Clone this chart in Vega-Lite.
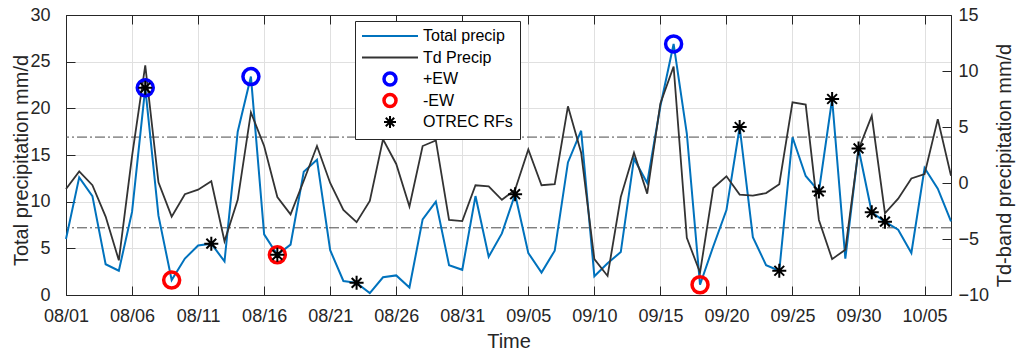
{
  "$schema": "https://vega.github.io/schema/vega-lite/v6.json",
  "width": 885,
  "height": 280,
  "autosize": {"type": "none"},
  "padding": {"left": 66, "top": 15, "right": 66, "bottom": 57},
  "background": "white",
  "config": {
    "view": {"stroke": "#262626", "strokeWidth": 1},
    "font": "Liberation Sans",
    "axis": {
      "labelFont": "Liberation Sans", "titleFont": "Liberation Sans",
      "labelFontSize": 18, "titleFontSize": 20, "titleFontWeight": "normal",
      "labelColor": "#262626", "titleColor": "#262626",
      "domainColor": "#262626", "tickColor": "#262626", "gridColor": "#e0e0e0",
      "tickSize": -9, "labelFlush": false, "labelOverlap": false
    },
    "legend": {
      "orient": "none", "legendX": 289, "legendY": 6, "padding": 7,
      "fillColor": "white", "strokeColor": "#262626",
      "labelFont": "Liberation Sans", "labelFontSize": 16, "labelColor": "#000000",
      "labelOffset": 25, "symbolOffset": 20, "symbolSize": 144, "symbolStrokeWidth": 2,
      "symbolOpacity": 1, "rowPadding": -4.5, "labelLimit": 300, "gridAlign": "all"
    }
  },
  "datasets": {
    "bands": [{"level": 4.1}, {"level": -4.0}],
    "precip": [
      {"date": "2019/08/01", "total": 6.0, "td": -0.54},
      {"date": "2019/08/02", "total": 12.6, "td": 1.04},
      {"date": "2019/08/03", "total": 10.6, "td": -0.2},
      {"date": "2019/08/04", "total": 3.3, "td": -3.0},
      {"date": "2019/08/05", "total": 2.6, "td": -6.9},
      {"date": "2019/08/06", "total": 8.9, "td": 2.4},
      {"date": "2019/08/07", "total": 22.2, "td": 10.5},
      {"date": "2019/08/08", "total": 8.5, "td": 0.06},
      {"date": "2019/08/09", "total": 1.6, "td": -3.0},
      {"date": "2019/08/10", "total": 3.9, "td": -1.0},
      {"date": "2019/08/11", "total": 5.3, "td": -0.6},
      {"date": "2019/08/12", "total": 5.5, "td": 0.15},
      {"date": "2019/08/13", "total": 3.6, "td": -5.2},
      {"date": "2019/08/14", "total": 17.5, "td": -1.5},
      {"date": "2019/08/15", "total": 23.4, "td": 6.3},
      {"date": "2019/08/16", "total": 6.5, "td": 3.3},
      {"date": "2019/08/17", "total": 4.3, "td": -1.25},
      {"date": "2019/08/18", "total": 5.4, "td": -2.8},
      {"date": "2019/08/19", "total": 13.2, "td": 0.2},
      {"date": "2019/08/20", "total": 14.5, "td": 3.3},
      {"date": "2019/08/21", "total": 4.8, "td": 0.0},
      {"date": "2019/08/22", "total": 1.5, "td": -2.4},
      {"date": "2019/08/23", "total": 1.3, "td": -3.5},
      {"date": "2019/08/24", "total": 0.2, "td": -1.6},
      {"date": "2019/08/25", "total": 1.9, "td": 3.9},
      {"date": "2019/08/26", "total": 2.1, "td": 1.7},
      {"date": "2019/08/27", "total": 0.8, "td": -2.1},
      {"date": "2019/08/28", "total": 8.1, "td": 3.3},
      {"date": "2019/08/29", "total": 10.0, "td": 3.8},
      {"date": "2019/08/30", "total": 3.2, "td": -3.3},
      {"date": "2019/08/31", "total": 2.7, "td": -3.4},
      {"date": "2019/09/01", "total": 10.6, "td": -0.2},
      {"date": "2019/09/02", "total": 4.1, "td": -0.3},
      {"date": "2019/09/03", "total": 6.6, "td": -1.5},
      {"date": "2019/09/04", "total": 10.8, "td": -0.6},
      {"date": "2019/09/05", "total": 4.5, "td": 3.0},
      {"date": "2019/09/06", "total": 2.4, "td": -0.2},
      {"date": "2019/09/07", "total": 4.75, "td": -0.1},
      {"date": "2019/09/08", "total": 14.2, "td": 6.85},
      {"date": "2019/09/09", "total": 17.6, "td": 2.7},
      {"date": "2019/09/10", "total": 2.0, "td": -6.8},
      {"date": "2019/09/11", "total": 3.4, "td": -8.3},
      {"date": "2019/09/12", "total": 4.6, "td": -1.25},
      {"date": "2019/09/13", "total": 14.6, "td": 2.7},
      {"date": "2019/09/14", "total": 12.0, "td": -0.95},
      {"date": "2019/09/15", "total": 20.25, "td": 7.1},
      {"date": "2019/09/16", "total": 26.9, "td": 10.4},
      {"date": "2019/09/17", "total": 17.3, "td": -4.9},
      {"date": "2019/09/18", "total": 1.1, "td": -8.0},
      {"date": "2019/09/19", "total": 5.2, "td": -0.45},
      {"date": "2019/09/20", "total": 9.1, "td": 0.6},
      {"date": "2019/09/21", "total": 18.0, "td": -1.04},
      {"date": "2019/09/22", "total": 6.2, "td": -1.13},
      {"date": "2019/09/23", "total": 3.2, "td": -0.9},
      {"date": "2019/09/24", "total": 2.6, "td": -0.1},
      {"date": "2019/09/25", "total": 16.9, "td": 7.2},
      {"date": "2019/09/26", "total": 12.75, "td": 7.0},
      {"date": "2019/09/27", "total": 11.1, "td": -3.3},
      {"date": "2019/09/28", "total": 21.0, "td": -6.8},
      {"date": "2019/09/29", "total": 3.9, "td": -5.95},
      {"date": "2019/09/30", "total": 15.7, "td": 3.0},
      {"date": "2019/10/01", "total": 8.86, "td": 6.0},
      {"date": "2019/10/02", "total": 7.86, "td": -2.7},
      {"date": "2019/10/03", "total": 7.0, "td": -1.4},
      {"date": "2019/10/04", "total": 4.5, "td": 0.4},
      {"date": "2019/10/05", "total": 13.6, "td": 0.8},
      {"date": "2019/10/06", "total": 11.4, "td": 5.7},
      {"date": "2019/10/07", "total": 7.9, "td": 0.65}
    ],
    "events": [
      {"date": "2019/08/07", "type": "+EW", "value": 22.2},
      {"date": "2019/08/15", "type": "+EW", "value": 23.4},
      {"date": "2019/09/16", "type": "+EW", "value": 26.9},
      {"date": "2019/08/09", "type": "-EW", "value": 1.6},
      {"date": "2019/08/17", "type": "-EW", "value": 4.3},
      {"date": "2019/09/18", "type": "-EW", "value": 1.1},
      {"date": "2019/08/07", "type": "OTREC RFs", "value": 22.2},
      {"date": "2019/08/12", "type": "OTREC RFs", "value": 5.5},
      {"date": "2019/08/17", "type": "OTREC RFs", "value": 4.3},
      {"date": "2019/08/23", "type": "OTREC RFs", "value": 1.3},
      {"date": "2019/09/04", "type": "OTREC RFs", "value": 10.8},
      {"date": "2019/09/21", "type": "OTREC RFs", "value": 18.0},
      {"date": "2019/09/24", "type": "OTREC RFs", "value": 2.6},
      {"date": "2019/09/27", "type": "OTREC RFs", "value": 11.1},
      {"date": "2019/09/28", "type": "OTREC RFs", "value": 21.0},
      {"date": "2019/09/30", "type": "OTREC RFs", "value": 15.7},
      {"date": "2019/10/01", "type": "OTREC RFs", "value": 8.86},
      {"date": "2019/10/02", "type": "OTREC RFs", "value": 7.86}
    ]
  },
  "layer": [
    {
      "data": {"name": "bands"},
      "mark": {"type": "rule", "color": "#4a4a4a", "strokeWidth": 1, "strokeDash": [10, 3, 2, 3]},
      "encoding": {
        "y": {"field": "level", "type": "quantitative", "scale": {"domain": [-10, 15], "nice": false}, "axis": null}
      }
    },
    {
      "data": {"name": "precip"},
      "mark": {"type": "line", "strokeWidth": 2},
      "encoding": {
        "x": {
          "field": "date", "type": "temporal",
          "scale": {"domain": [{"year": 2019, "month": 8, "date": 1}, {"year": 2019, "month": 10, "date": 7}], "nice": false},
          "axis": {
            "orient": "bottom", "format": "%m/%d", "title": "Time", "grid": true,
            "values": [{"year": 2019, "month": 8, "date": 1}, {"year": 2019, "month": 8, "date": 6}, {"year": 2019, "month": 8, "date": 11}, {"year": 2019, "month": 8, "date": 16}, {"year": 2019, "month": 8, "date": 21}, {"year": 2019, "month": 8, "date": 26}, {"year": 2019, "month": 8, "date": 31}, {"year": 2019, "month": 9, "date": 5}, {"year": 2019, "month": 9, "date": 10}, {"year": 2019, "month": 9, "date": 15}, {"year": 2019, "month": 9, "date": 20}, {"year": 2019, "month": 9, "date": 25}, {"year": 2019, "month": 9, "date": 30}, {"year": 2019, "month": 10, "date": 5}],
            "labelPadding": 35, "labelBaseline": "alphabetic",
            "titleX": 442.5, "titleY": 52, "titleBaseline": "alphabetic", "titleAlign": "center"
          }
        },
        "y": {
          "field": "total", "type": "quantitative",
          "scale": {"domain": [0, 30], "nice": false},
          "axis": {
            "orient": "left", "values": [0, 5, 10, 15, 20, 25, 30], "grid": true,
            "title": "Total precipitation mm/d", "labelPadding": 25,
            "titleAngle": 270, "titleX": -39, "titleY": 145, "titleBaseline": "alphabetic", "titleAlign": "center"
          }
        },
        "color": {
          "datum": "Total precip", "type": "nominal",
          "scale": {"domain": ["Total precip", "Td Precip", "+EW", "-EW", "OTREC RFs"], "range": ["#0072BD", "#333333", "#0000FF", "#FF0000", "#000000"]},
          "legend": {"title": null, "encode": {"symbols": {"update": {"fill": {"value": "transparent"}, "stroke": {"signal": "scale('color', datum.value)"}, "shape": {"signal": "scale('shape', datum.value)"}, "strokeWidth": {"signal": "((datum.value == '+EW' || datum.value == '-EW') ? 3.5 : 2)"}}}}}
        }
      }
    },
    {
      "data": {"name": "precip"},
      "mark": {"type": "line", "strokeWidth": 1.8},
      "encoding": {
        "x": {
          "field": "date", "type": "temporal",
          "scale": {"domain": [{"year": 2019, "month": 8, "date": 1}, {"year": 2019, "month": 10, "date": 7}], "nice": false},
          "axis": {
            "orient": "top", "labels": false, "title": null, "grid": false, "domain": true,
            "values": [{"year": 2019, "month": 8, "date": 1}, {"year": 2019, "month": 8, "date": 6}, {"year": 2019, "month": 8, "date": 11}, {"year": 2019, "month": 8, "date": 16}, {"year": 2019, "month": 8, "date": 21}, {"year": 2019, "month": 8, "date": 26}, {"year": 2019, "month": 8, "date": 31}, {"year": 2019, "month": 9, "date": 5}, {"year": 2019, "month": 9, "date": 10}, {"year": 2019, "month": 9, "date": 15}, {"year": 2019, "month": 9, "date": 20}, {"year": 2019, "month": 9, "date": 25}, {"year": 2019, "month": 9, "date": 30}, {"year": 2019, "month": 10, "date": 5}]
          }
        },
        "y": {
          "field": "td", "type": "quantitative",
          "scale": {"domain": [-10, 15], "nice": false},
          "axis": {
            "orient": "right", "values": [-10, -5, 0, 5, 10, 15], "grid": false,
            "title": "Td-band precipitation mm/d", "labelPadding": 16,
            "titleAngle": 270, "titleX": 59, "titleY": 150, "titleBaseline": "alphabetic", "titleAlign": "center"
          }
        },
        "color": {
          "datum": "Td Precip", "type": "nominal",
          "legend": {"title": null, "encode": {"symbols": {"update": {"fill": {"value": "transparent"}, "stroke": {"signal": "scale('color', datum.value)"}, "shape": {"signal": "scale('shape', datum.value)"}, "strokeWidth": {"signal": "((datum.value == '+EW' || datum.value == '-EW') ? 3.5 : 2)"}}}}}
        }
      }
    },
    {
      "data": {"name": "events"},
      "transform": [{"filter": {"field": "type", "oneOf": ["+EW", "-EW"]}}],
      "mark": {"type": "point", "filled": false, "opacity": 1, "strokeWidth": 3.5, "size": 256},
      "encoding": {
        "x": {"field": "date", "type": "temporal", "scale": {"domain": [{"year": 2019, "month": 8, "date": 1}, {"year": 2019, "month": 10, "date": 7}], "nice": false}, "axis": null},
        "y": {"field": "value", "type": "quantitative", "scale": {"domain": [0, 30], "nice": false}, "axis": null},
        "color": {"field": "type", "type": "nominal",
          "legend": {"title": null, "encode": {"symbols": {"update": {"fill": {"value": "transparent"}, "stroke": {"signal": "scale('color', datum.value)"}, "shape": {"signal": "scale('shape', datum.value)"}, "strokeWidth": {"signal": "((datum.value == '+EW' || datum.value == '-EW') ? 3.5 : 2)"}}}}}},
        "shape": {"field": "type", "type": "nominal",
          "scale": {"domain": ["Total precip", "Td Precip", "+EW", "-EW", "OTREC RFs"], "range": ["M-4.667,0L4.667,0", "M-4.667,0L4.667,0", "circle", "circle", "M-1,0L1,0M0,-1L0,1M-0.7,-0.7L0.7,0.7M-0.7,0.7L0.7,-0.7"]},
          "legend": {"title": null, "encode": {"symbols": {"update": {"fill": {"value": "transparent"}, "stroke": {"signal": "scale('color', datum.value)"}, "shape": {"signal": "scale('shape', datum.value)"}, "strokeWidth": {"signal": "((datum.value == '+EW' || datum.value == '-EW') ? 3.5 : 2)"}}}}}}
      }
    },
    {
      "data": {"name": "events"},
      "transform": [{"filter": {"field": "type", "equal": "OTREC RFs"}}],
      "mark": {"type": "point", "filled": false, "opacity": 1, "strokeWidth": 2, "size": 196},
      "encoding": {
        "x": {"field": "date", "type": "temporal", "scale": {"domain": [{"year": 2019, "month": 8, "date": 1}, {"year": 2019, "month": 10, "date": 7}], "nice": false}, "axis": null},
        "y": {"field": "value", "type": "quantitative", "scale": {"domain": [0, 30], "nice": false}, "axis": null},
        "color": {"field": "type", "type": "nominal",
          "legend": {"title": null, "encode": {"symbols": {"update": {"fill": {"value": "transparent"}, "stroke": {"signal": "scale('color', datum.value)"}, "shape": {"signal": "scale('shape', datum.value)"}, "strokeWidth": {"signal": "((datum.value == '+EW' || datum.value == '-EW') ? 3.5 : 2)"}}}}}},
        "shape": {"field": "type", "type": "nominal",
          "legend": {"title": null, "encode": {"symbols": {"update": {"fill": {"value": "transparent"}, "stroke": {"signal": "scale('color', datum.value)"}, "shape": {"signal": "scale('shape', datum.value)"}, "strokeWidth": {"signal": "((datum.value == '+EW' || datum.value == '-EW') ? 3.5 : 2)"}}}}}}
      }
    }
  ],
  "resolve": {"scale": {"y": "independent"}, "axis": {"x": "independent", "y": "independent"}}
}
